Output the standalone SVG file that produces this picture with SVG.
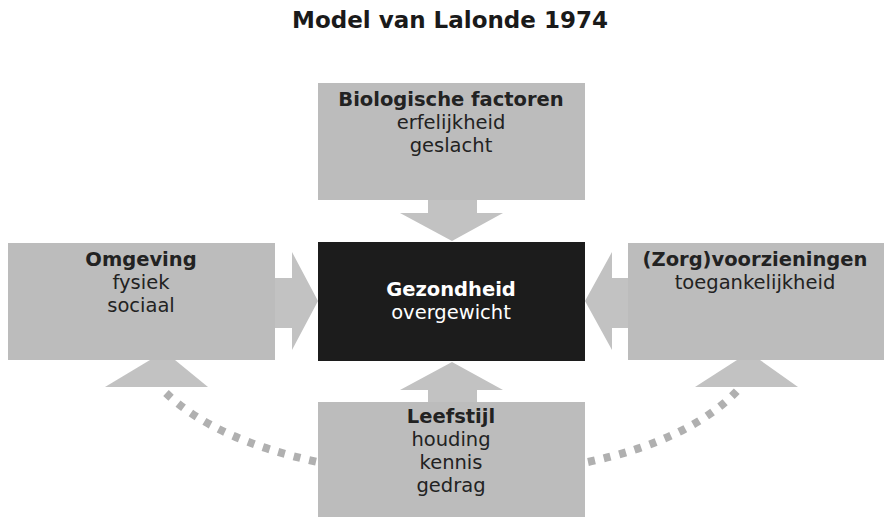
<svg xmlns="http://www.w3.org/2000/svg" width="884" height="517" viewBox="0 0 884 517">
<style>
.box{fill:#bcbcbc}
.arr{fill:#c2c2c2}
.t{font-family:"DejaVu Sans",Verdana,sans-serif;font-size:19.5px;text-anchor:middle;fill:#222}
.b{font-weight:bold}
.w{fill:#fff}
.title{font-size:23px;fill:#1a1a1a}
.dot{fill:none;stroke:#b0b0b0;stroke-width:8;stroke-dasharray:7 9}
</style>
<rect width="884" height="517" fill="#fff"/>
<text class="t b title" x="450" y="28">Model van Lalonde 1974</text>
<g id="connectors">
<polygon class="arr" points="428,200 477,200 477,213 503,213 452,241 400,213 428,213"/>
<polygon class="arr" points="275,278 292,278 292,252 318,301 292,350 292,328 275,328"/>
<polygon class="arr" points="628,278 612,278 612,252 585,301 612,350 612,328 628,328"/>
<polygon class="arr" points="428,402 477,402 477,390 503,390 452,362 400,390 428,390"/>
<polygon class="arr" points="150,360 175,360 208,387 105,387"/>
<polygon class="arr" points="737,360 760,360 798,387 695,387"/>
<path class="dot" d="M166,393 Q215,440 318,462"/>
<path class="dot" d="M588,462 Q690,440 737,391"/>
</g>
<g id="bio">
<rect class="box" x="318" y="83" width="267" height="117"/>
<text class="t b" x="451" y="106">Biologische factoren</text>
<text class="t" x="451" y="129">erfelijkheid</text>
<text class="t" x="451" y="152">geslacht</text>
</g>
<g id="gezondheid">
<rect x="318" y="242" width="267" height="119" fill="#1c1c1c"/>
<text class="t b w" x="451" y="296">Gezondheid</text>
<text class="t w" x="451" y="319">overgewicht</text>
</g>
<g id="omgeving">
<rect class="box" x="8" y="243" width="267" height="117"/>
<text class="t b" x="141" y="266">Omgeving</text>
<text class="t" x="141" y="289">fysiek</text>
<text class="t" x="141" y="312">sociaal</text>
</g>
<g id="zorg">
<rect class="box" x="628" y="243" width="256" height="117"/>
<text class="t b" x="755" y="266">(Zorg)voorzieningen</text>
<text class="t" x="755" y="289">toegankelijkheid</text>
</g>
<g id="leefstijl">
<rect class="box" x="318" y="402" width="267" height="115"/>
<text class="t b" x="451" y="423">Leefstijl</text>
<text class="t" x="451" y="446">houding</text>
<text class="t" x="451" y="469">kennis</text>
<text class="t" x="451" y="492">gedrag</text>
</g>
</svg>
